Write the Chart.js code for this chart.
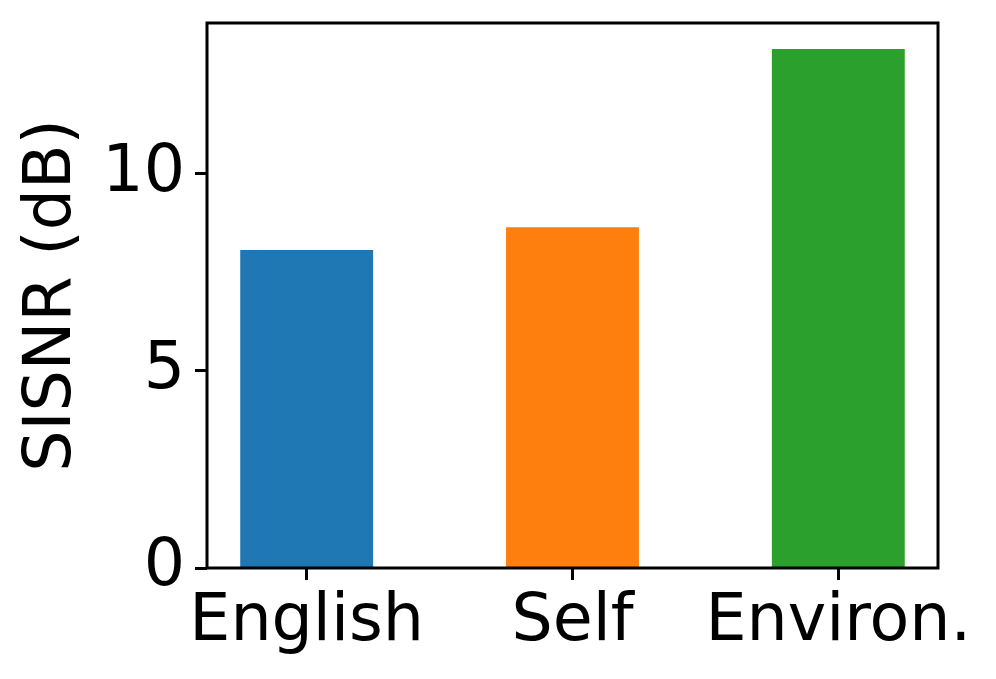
<!DOCTYPE html>
<html>
<head>
<meta charset="utf-8">
<script src="https://cdn.jsdelivr.net/npm/chart.js@4/dist/chart.umd.min.js"></script>
<style>
 html, body { margin: 0; padding: 0; background: #fff; }
 #wrap { width: 996px; height: 679px; }
</style>
</head>
<body>
<div id="wrap"><canvas id="sisnrChart" width="996" height="679"></canvas></div>
<script>
/* ── DATA ────────────────────────────────────────────────── */
const categories = ['English', 'Self', 'Environ.'];
const sisnrValues = [8.07, 8.65, 13.17];
const barColors = ['#1f77b4', '#ff7f0e', '#2ca02c'];
const yTicks = [0, 5, 10];
const yMax = 13.83;

const FONT = 'DejaVu Sans';

/* ── FRAME (all four spines, drawn over bars) ────────────── */
const framePlugin = {
 id: 'frame',
 afterDatasetsDraw(chart) {
 const { ctx, chartArea: a } = chart;
 ctx.save();
 ctx.strokeStyle = '#000';
 ctx.lineWidth = 3;
 ctx.strokeRect(a.left, a.top, a.right - a.left, a.bottom - a.top);
 ctx.restore();
 }
};

const ctx = document.getElementById('sisnrChart').getContext('2d');
new Chart(ctx, {
 type: 'bar',
 data: {
 datasets: [{
 data: categories.map((c, i) => ({ x: i, y: sisnrValues[i] })),
 backgroundColor: barColors,
 borderWidth: 0,
 barPercentage: 0.5,
 categoryPercentage: 1
 }]
 },
 options: {
 responsive: false,
 animation: false,
 layout: { padding: { top: 23, right: 58, left: 0, bottom: 0 } },
 plugins: { legend: { display: false }, tooltip: { enabled: false } },
 scales: {
 x: {
 type: 'linear',
 min: -0.375,
 max: 2.375,
 offset: false,
 afterBuildTicks: s => { s.ticks = categories.map((c, i) => ({ value: i })); },
 afterFit: s => { s.height = 111; s.paddingLeft = 0; s.paddingRight = 0; },
 grid: { offset: false, drawOnChartArea: false, drawTicks: true, tickLength: 12, tickWidth: 3, tickColor: '#000' },
 border: { display: false },
 ticks: {
 color: '#000',
 padding: 4,
 maxRotation: 0,
 autoSkip: false,
 font: { family: FONT, size: 65 },
 callback: v => categories[v] ?? ''
 }
 },
 y: {
 min: 0,
 max: yMax,
 afterBuildTicks: s => { s.ticks = yTicks.map(v => ({ value: v })); },
 afterFit: s => { s.width = 207; s.paddingTop = 0; s.paddingBottom = 0; },
 grid: { drawOnChartArea: false, drawTicks: true, tickLength: 12, tickWidth: 3, tickColor: '#000' },
 border: { display: false },
 ticks: { color: '#000', padding: 10, font: { family: FONT, size: 65 } },
 title: {
 display: true,
 text: 'SISNR (dB)',
 color: '#000',
 padding: { top: 14, bottom: 0 },
 font: { family: FONT, size: 65 }
 }
 }
 }
 },
 plugins: [framePlugin]
});
</script>
</body>
</html>
